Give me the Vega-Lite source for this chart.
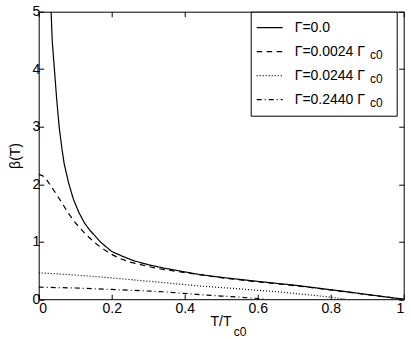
{
  "$schema": "https://vega.github.io/schema/vega-lite/v6.json",
  "width": 365,
  "height": 287.5,
  "autosize": {"type": "none"},
  "padding": {"left": 38.7, "top": 11.7, "right": 7.3, "bottom": 39.8},
  "background": "#ffffff",
  "config": {
    "font": "Liberation Sans",
    "view": {"stroke": "#000000", "strokeWidth": 1},
    "axis": {
      "labelFont": "Liberation Sans",
      "labelFontSize": 14,
      "labelColor": "#000000",
      "titleFont": "Liberation Sans",
      "titleFontSize": 14,
      "titleFontWeight": "normal",
      "titleColor": "#000000",
      "tickColor": "#000000",
      "tickSize": -5,
      "tickWidth": 1,
      "domain": false,
      "grid": false
    },
    "legend": {
      "labelFont": "Liberation Sans",
      "labelColor": "#000000",
      "labelLimit": 400,
      "titleFont": "Liberation Sans",
      "titleFontWeight": "normal"
    }
  },
  "data": {
    "values": [
      {"series": "Γ=0.0", "T": 0.034, "beta": 5.0},
      {"series": "Γ=0.0", "T": 0.037, "beta": 4.5},
      {"series": "Γ=0.0", "T": 0.043, "beta": 4.0},
      {"series": "Γ=0.0", "T": 0.049, "beta": 3.5},
      {"series": "Γ=0.0", "T": 0.056, "beta": 3.0},
      {"series": "Γ=0.0", "T": 0.064, "beta": 2.6},
      {"series": "Γ=0.0", "T": 0.070, "beta": 2.35},
      {"series": "Γ=0.0", "T": 0.082, "beta": 2.02},
      {"series": "Γ=0.0", "T": 0.095, "beta": 1.74},
      {"series": "Γ=0.0", "T": 0.11, "beta": 1.51},
      {"series": "Γ=0.0", "T": 0.125, "beta": 1.33},
      {"series": "Γ=0.0", "T": 0.14, "beta": 1.2},
      {"series": "Γ=0.0", "T": 0.17, "beta": 0.99},
      {"series": "Γ=0.0", "T": 0.2, "beta": 0.83},
      {"series": "Γ=0.0", "T": 0.23, "beta": 0.745},
      {"series": "Γ=0.0", "T": 0.26, "beta": 0.67},
      {"series": "Γ=0.0", "T": 0.3, "beta": 0.6},
      {"series": "Γ=0.0", "T": 0.34, "beta": 0.545},
      {"series": "Γ=0.0", "T": 0.4, "beta": 0.475},
      {"series": "Γ=0.0", "T": 0.44, "beta": 0.43},
      {"series": "Γ=0.0", "T": 0.5, "beta": 0.38},
      {"series": "Γ=0.0", "T": 0.55, "beta": 0.345},
      {"series": "Γ=0.0", "T": 0.6, "beta": 0.31},
      {"series": "Γ=0.0", "T": 0.66, "beta": 0.27},
      {"series": "Γ=0.0", "T": 0.7, "beta": 0.245},
      {"series": "Γ=0.0", "T": 0.75, "beta": 0.205},
      {"series": "Γ=0.0", "T": 0.8, "beta": 0.165},
      {"series": "Γ=0.0", "T": 0.85, "beta": 0.125},
      {"series": "Γ=0.0", "T": 0.9, "beta": 0.082},
      {"series": "Γ=0.0", "T": 0.95, "beta": 0.04},
      {"series": "Γ=0.0", "T": 1.0, "beta": 0.0},

      {"series": "Γ=0.0024 Γc0", "T": 0.0, "beta": 2.17},
      {"series": "Γ=0.0024 Γc0", "T": 0.01, "beta": 2.15},
      {"series": "Γ=0.0024 Γc0", "T": 0.02, "beta": 2.09},
      {"series": "Γ=0.0024 Γc0", "T": 0.03, "beta": 2.0},
      {"series": "Γ=0.0024 Γc0", "T": 0.047, "beta": 1.84},
      {"series": "Γ=0.0024 Γc0", "T": 0.06, "beta": 1.71},
      {"series": "Γ=0.0024 Γc0", "T": 0.084, "beta": 1.47},
      {"series": "Γ=0.0024 Γc0", "T": 0.1, "beta": 1.33},
      {"series": "Γ=0.0024 Γc0", "T": 0.13, "beta": 1.12},
      {"series": "Γ=0.0024 Γc0", "T": 0.16, "beta": 0.95},
      {"series": "Γ=0.0024 Γc0", "T": 0.18, "beta": 0.86},
      {"series": "Γ=0.0024 Γc0", "T": 0.2, "beta": 0.78},
      {"series": "Γ=0.0024 Γc0", "T": 0.22, "beta": 0.715},
      {"series": "Γ=0.0024 Γc0", "T": 0.25, "beta": 0.645},
      {"series": "Γ=0.0024 Γc0", "T": 0.3, "beta": 0.57},
      {"series": "Γ=0.0024 Γc0", "T": 0.33, "beta": 0.53},
      {"series": "Γ=0.0024 Γc0", "T": 0.4, "beta": 0.463},
      {"series": "Γ=0.0024 Γc0", "T": 0.45, "beta": 0.418},
      {"series": "Γ=0.0024 Γc0", "T": 0.5, "beta": 0.374},
      {"series": "Γ=0.0024 Γc0", "T": 0.6, "beta": 0.302},
      {"series": "Γ=0.0024 Γc0", "T": 0.7, "beta": 0.237},
      {"series": "Γ=0.0024 Γc0", "T": 0.8, "beta": 0.161},
      {"series": "Γ=0.0024 Γc0", "T": 0.9, "beta": 0.08},
      {"series": "Γ=0.0024 Γc0", "T": 1.0, "beta": 0.0},

      {"series": "Γ=0.0244 Γc0", "T": 0.0, "beta": 0.46},
      {"series": "Γ=0.0244 Γc0", "T": 0.1, "beta": 0.42},
      {"series": "Γ=0.0244 Γc0", "T": 0.2, "beta": 0.37},
      {"series": "Γ=0.0244 Γc0", "T": 0.34, "beta": 0.29},
      {"series": "Γ=0.0244 Γc0", "T": 0.44, "beta": 0.23},
      {"series": "Γ=0.0244 Γc0", "T": 0.55, "beta": 0.18},
      {"series": "Γ=0.0244 Γc0", "T": 0.66, "beta": 0.125},
      {"series": "Γ=0.0244 Γc0", "T": 0.75, "beta": 0.07},
      {"series": "Γ=0.0244 Γc0", "T": 0.8, "beta": 0.035},
      {"series": "Γ=0.0244 Γc0", "T": 0.84, "beta": 0.0},

      {"series": "Γ=0.2440 Γc0", "T": 0.0, "beta": 0.21},
      {"series": "Γ=0.2440 Γc0", "T": 0.1, "beta": 0.195},
      {"series": "Γ=0.2440 Γc0", "T": 0.2, "beta": 0.17},
      {"series": "Γ=0.2440 Γc0", "T": 0.34, "beta": 0.13},
      {"series": "Γ=0.2440 Γc0", "T": 0.44, "beta": 0.08},
      {"series": "Γ=0.2440 Γc0", "T": 0.5, "beta": 0.055},
      {"series": "Γ=0.2440 Γc0", "T": 0.55, "beta": 0.035},
      {"series": "Γ=0.2440 Γc0", "T": 0.6, "beta": 0.012},
      {"series": "Γ=0.2440 Γc0", "T": 0.62, "beta": 0.0}
    ]
  },
  "layer": [
    {
      "mark": {"type": "line", "color": "#000000", "strokeWidth": 1.2, "clip": true},
      "encoding": {
        "x": {
          "field": "T",
          "type": "quantitative",
          "scale": {"domain": [0, 1], "nice": false},
          "axis": {
            "orient": "bottom",
            "values": [0, 0.2, 0.4, 0.6, 0.8, 1],
            "format": "~g",
            "labelPadding": 7,
            "title": "T/T",
            "titleAlign": "left",
            "titleBaseline": "alphabetic",
            "titleX": 171.3,
            "titleY": 25.8
          }
        },
        "y": {
          "field": "beta",
          "type": "quantitative",
          "scale": {"domain": [0, 5], "nice": false},
          "axis": {
            "orient": "left",
            "values": [0, 1, 2, 3, 4, 5],
            "labelPadding": 4,
            "title": "β(T)",
            "titleAngle": -90,
            "titleAlign": "center",
            "titleBaseline": "middle",
            "titleX": -23,
            "titleY": 143.75
          }
        },
        "strokeDash": {
          "field": "series",
          "type": "nominal",
          "scale": {
            "domain": ["Γ=0.0", "Γ=0.0024 Γc0", "Γ=0.0244 Γc0", "Γ=0.2440 Γc0"],
            "range": [[1, 0], [5.5, 4.5], [1, 2], [5, 3, 1, 3]]
          },
          "legend": {
            "title": "\u200b\u00a0\u00a0\u00a0\u200b",
            "titleOrient": "right",
            "titleFontSize": 14,
            "titlePadding": 15,
            "orient": "none",
            "legendX": 212,
            "legendY": 0,
            "zindex": 1,
            "strokeColor": "#000000",
            "fillColor": "#ffffff",
            "padding": 5,
            "symbolType": "stroke",
            "symbolSize": 676,
            "symbolStrokeWidth": 1.2,
            "symbolStrokeColor": "#000000",
            "labelFontSize": 14,
            "labelOffset": 11,
            "clipHeight": 21.7,
            "rowPadding": 2,
            "labelExpr": "length(datum.label) > 6 ? slice(datum.label, 0, -2) : datum.label"
          }
        }
      }
    },
    {
      "mark": {"type": "point", "opacity": 0},
      "encoding": {
        "x": {
          "field": "T",
          "type": "quantitative",
          "axis": {
            "orient": "top",
            "values": [0, 0.2, 0.4, 0.6, 0.8, 1],
            "labels": false,
            "title": "c0",
            "titleFontSize": 12,
            "titleAlign": "left",
            "titleBaseline": "alphabetic",
            "titleX": 194.5,
            "titleY": 323.5
          }
        },
        "y": {
          "field": "beta",
          "type": "quantitative",
          "axis": {"orient": "right", "values": [0, 1, 2, 3, 4, 5], "labels": false, "title": null}
        },
        "color": {
          "field": "series",
          "type": "nominal",
          "scale": {
            "domain": ["Γ=0.0", "Γ=0.0024 Γc0", "Γ=0.0244 Γc0", "Γ=0.2440 Γc0"],
            "range": ["#000000", "#000000", "#000000", "#000000"]
          },
          "legend": {
            "title": null,
            "orient": "top-left",
            "offset": 6,
            "zindex": 2,
            "strokeColor": "transparent",
            "fillColor": "transparent",
            "padding": 2.5,
            "symbolOpacity": 0,
            "symbolStrokeColor": "transparent",
            "symbolSize": 4,
            "labelFontSize": 12,
            "labelOffset": 310.8,
            "clipHeight": 21.7,
            "rowPadding": 2,
            "labelExpr": "length(datum.label) > 6 ? 'c0' : ''"
          }
        }
      }
    }
  ],
  "resolve": {"axis": {"x": "independent", "y": "independent"}}
}
